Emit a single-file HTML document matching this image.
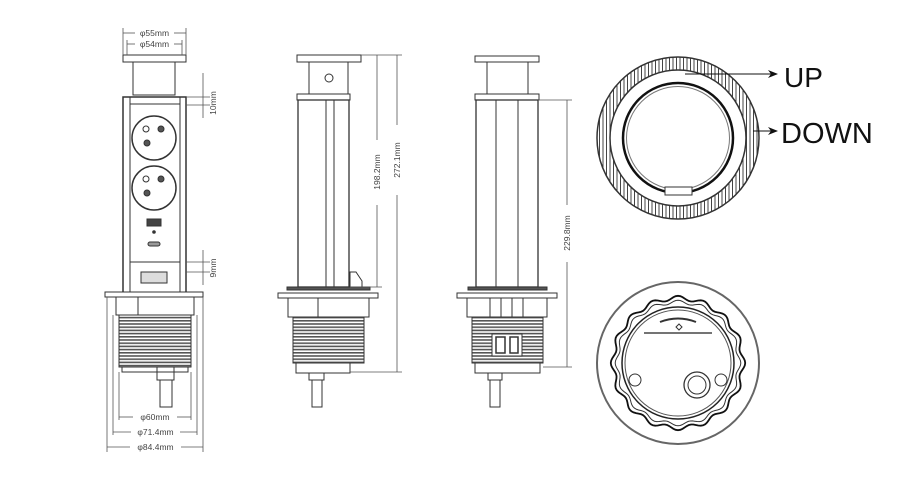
<!DOCTYPE html>
<html><head><meta charset="utf-8"><style>
html,body{margin:0;padding:0;background:#fff;}
svg{display:block;font-family:"Liberation Sans",sans-serif;}
</style></head><body>
<svg id="s" width="900" height="482" viewBox="0 0 900 482" xmlns="http://www.w3.org/2000/svg">
<defs>
<pattern id="vh" width="3.5" height="10" patternUnits="userSpaceOnUse"><rect width="3.5" height="10" fill="#fff"/><line x1="1" y1="0" x2="1" y2="10" stroke="#444" stroke-width="1"/></pattern>
<pattern id="th" width="10" height="3.2" patternUnits="userSpaceOnUse"><rect width="10" height="3.2" fill="#fff"/><rect y="0" width="10" height="1.6" fill="#555"/></pattern>
<marker id="ar" markerWidth="10" markerHeight="10" refX="9" refY="5" orient="auto" markerUnits="userSpaceOnUse"><path d="M0,1 L10,5 L0,9 L3,5z" fill="#111"/></marker>
</defs>
<g fill="none" stroke="#333" stroke-width="1">
<!-- VIEW 1 -->
<rect x="123" y="55" width="63" height="7" fill="#fff"/>
<rect x="133" y="62" width="42" height="33"/>
<rect x="123" y="97" width="63" height="196" stroke-width="1.5"/>
<line x1="130" y1="97" x2="130" y2="293"/><line x1="180" y1="97" x2="180" y2="293"/>
<line x1="130" y1="104" x2="180" y2="104"/>
<line x1="130" y1="262" x2="180" y2="262"/>
<circle cx="154" cy="138" r="22" stroke-width="1.5"/>
<circle cx="154" cy="188" r="22" stroke-width="1.5"/>
<circle cx="146" cy="129" r="3"/><circle cx="161" cy="129" r="3" fill="#555"/><circle cx="147" cy="143" r="3" fill="#555"/>
<circle cx="146" cy="179" r="3"/><circle cx="161" cy="179" r="3" fill="#555"/><circle cx="147" cy="193" r="3" fill="#555"/>
<rect x="147" y="219" width="14" height="7" fill="#444"/>
<circle cx="154" cy="232" r="1.3" fill="#333"/>
<rect x="148" y="242" width="12" height="4" rx="2" fill="#999"/>
<rect x="141" y="272" width="26" height="11" fill="#ddd"/>
<rect x="105" y="292" width="98" height="5" fill="#fff"/>
<rect x="116" y="297" width="78" height="18"/>
<line x1="138" y1="297" x2="138" y2="315"/>
<rect x="119" y="315" width="72" height="52" fill="url(#th)"/>
<rect x="122" y="367" width="66" height="5"/>
<rect x="157" y="367" width="17" height="13"/>
<rect x="160" y="380" width="12" height="27"/>
<g stroke="#555" stroke-width="0.8">
<line x1="123" y1="28" x2="123" y2="55"/><line x1="186" y1="28" x2="186" y2="55"/>
<line x1="127" y1="40" x2="127" y2="55"/><line x1="182" y1="40" x2="182" y2="55"/>
<line x1="123" y1="33" x2="135" y2="33"/><line x1="174" y1="33" x2="186" y2="33"/>
<line x1="127" y1="44" x2="135" y2="44"/><line x1="174" y1="44" x2="182" y2="44"/>
<line x1="203" y1="73" x2="203" y2="118"/><line x1="186" y1="97" x2="210" y2="97"/><line x1="186" y1="105" x2="210" y2="105"/>
<line x1="203" y1="250" x2="203" y2="285"/><line x1="186" y1="262" x2="210" y2="262"/><line x1="186" y1="272" x2="210" y2="272"/>
<line x1="119" y1="372" x2="119" y2="420"/><line x1="191" y1="372" x2="191" y2="420"/>
<line x1="113" y1="315" x2="113" y2="435"/><line x1="197" y1="315" x2="197" y2="435"/>
<line x1="107" y1="297" x2="107" y2="452"/><line x1="203" y1="297" x2="203" y2="452"/>
<line x1="119" y1="417" x2="133" y2="417"/><line x1="177" y1="417" x2="191" y2="417"/>
<line x1="113" y1="432" x2="131" y2="432"/><line x1="180" y1="432" x2="197" y2="432"/>
<line x1="107" y1="447" x2="130" y2="447"/><line x1="181" y1="447" x2="203" y2="447"/>
</g>
<!-- VIEW 2 -->
<rect x="297" y="55" width="64" height="7" fill="#fff"/>
<rect x="309" y="62" width="39" height="32"/>
<circle cx="329" cy="78" r="4"/>
<rect x="297" y="94" width="53" height="6"/>
<rect x="298" y="100" width="51" height="187" stroke-width="1.3"/>
<line x1="326" y1="100" x2="326" y2="287"/><line x1="334" y1="100" x2="334" y2="287"/>
<path d="M350,272 h6 l6,9 v6 h-12z" fill="#fff"/>
<rect x="287" y="287" width="83" height="3" fill="#555"/>
<rect x="278" y="293" width="100" height="5" fill="#fff"/>
<rect x="288" y="298" width="81" height="19"/>
<line x1="318" y1="298" x2="318" y2="317"/>
<rect x="293" y="317" width="71" height="46" fill="url(#th)"/>
<rect x="296" y="363" width="54" height="10"/>
<rect x="309" y="373" width="15" height="7"/>
<rect x="312" y="380" width="10" height="27"/>
<g stroke="#555" stroke-width="0.8">
<line x1="361" y1="55" x2="402" y2="55"/><line x1="350" y1="287" x2="382" y2="287"/><line x1="350" y1="372" x2="402" y2="372"/>
<line x1="377" y1="55" x2="377" y2="140"/><line x1="377" y1="205" x2="377" y2="287"/>
<line x1="397" y1="55" x2="397" y2="125"/><line x1="397" y1="195" x2="397" y2="372"/>
</g>
<!-- VIEW 3 -->
<rect x="475" y="56" width="64" height="6" fill="#fff"/>
<rect x="487" y="62" width="41" height="32"/>
<rect x="475" y="94" width="64" height="6"/>
<rect x="476" y="100" width="62" height="187" stroke-width="1.3"/>
<line x1="496" y1="100" x2="496" y2="287"/><line x1="518" y1="100" x2="518" y2="287"/>
<rect x="468" y="287" width="79" height="3" fill="#555"/>
<rect x="457" y="293" width="100" height="5" fill="#fff"/>
<rect x="467" y="298" width="80" height="19"/>
<line x1="490" y1="298" x2="490" y2="317"/><line x1="501" y1="298" x2="501" y2="317"/><line x1="512" y1="298" x2="512" y2="317"/><line x1="523" y1="298" x2="523" y2="317"/>
<rect x="472" y="317" width="71" height="46" fill="url(#th)"/>
<rect x="492" y="334" width="30" height="22" fill="#fff"/>
<rect x="496" y="337" width="9" height="16" fill="#fff" stroke-width="1.5"/>
<rect x="510" y="337" width="8" height="16" fill="#fff" stroke-width="1.5"/>
<rect x="475" y="363" width="65" height="10"/>
<rect x="488" y="373" width="14" height="7"/>
<rect x="490" y="380" width="10" height="27"/>
<g stroke="#555" stroke-width="0.8">
<line x1="538" y1="100" x2="572" y2="100"/><line x1="543" y1="367" x2="572" y2="367"/>
<line x1="567" y1="100" x2="567" y2="205"/><line x1="567" y1="262" x2="567" y2="367"/>
</g>
<!-- TOP CIRCLE -->
<path d="M597,138 a81,81 0 1,0 162,0 a81,81 0 1,0 -162,0z M610,138 a68,68 0 1,0 136,0 a68,68 0 1,0 -136,0z" fill="url(#vh)" fill-rule="evenodd" stroke-width="1.5"/>
<circle cx="678" cy="138" r="55" stroke="#111" stroke-width="2.5"/>
<circle cx="678" cy="138" r="51.5" stroke="#777"/>
<rect x="665" y="187" width="27" height="8" fill="#fff"/>
<!-- BOTTOM CIRCLE -->
<circle cx="678" cy="363" r="81" stroke="#666" stroke-width="2"/>
<path id="sc" stroke="#111" stroke-width="1.8"/>
<circle cx="678" cy="363" r="56" stroke="#222" stroke-width="1.5"/>
<circle cx="678" cy="363" r="53" stroke="#555"/>
<line x1="644" y1="333" x2="712" y2="333" stroke="#222" stroke-width="1.2"/>
<path d="M660,322 Q678,315 696,322" stroke="#333" stroke-width="2"/>
<path d="M679,324 l3,3 -3,3 -3,-3z"/>
<circle cx="635" cy="380" r="6"/><circle cx="721" cy="380" r="6"/>
<circle cx="697" cy="385" r="13" stroke-width="1.3"/><circle cx="697" cy="385" r="9"/>
<line x1="685" y1="74" x2="777" y2="74" stroke="#111" marker-end="url(#ar)"/>
<line x1="753" y1="131" x2="777" y2="131" stroke="#111" marker-end="url(#ar)"/>
</g>
<g fill="#444" font-size="8.5">
<text x="154.5" y="36" text-anchor="middle">φ55mm</text>
<text x="154.5" y="47" text-anchor="middle">φ54mm</text>
<text transform="translate(216,103) rotate(-90)" text-anchor="middle">10mm</text>
<text transform="translate(216,268) rotate(-90)" text-anchor="middle">9mm</text>
<text x="155" y="420" text-anchor="middle">φ60mm</text>
<text x="155.5" y="435" text-anchor="middle">φ71.4mm</text>
<text x="155.5" y="450" text-anchor="middle">φ84.4mm</text>
<text transform="translate(380,172) rotate(-90)" text-anchor="middle">198.2mm</text>
<text transform="translate(400,160) rotate(-90)" text-anchor="middle">272.1mm</text>
<text transform="translate(570,233) rotate(-90)" text-anchor="middle">229.8mm</text>
</g>
<text x="784" y="87" font-size="28" fill="#111">UP</text>
<text x="781" y="143" font-size="29" fill="#111">DOWN</text>
</svg>
<script>
(function(){var cx=678,cy=363,n=16,d="";for(var i=0;i<=360;i+=2){var a=i*Math.PI/180;var r=65+2.2*Math.cos(n*a);d+=(i?"L":"M")+(cx+r*Math.cos(a)).toFixed(2)+","+(cy+r*Math.sin(a)).toFixed(2);}
var sc=document.getElementById("sc");sc.setAttribute("d",d+"Z");
var p="";for(var j=0;j<=360;j+=2){var b=j*Math.PI/180;var r2=61+1.8*Math.cos(n*b);p+=(j?"L":"M")+(cx+r2*Math.cos(b)).toFixed(2)+","+(cy+r2*Math.sin(b)).toFixed(2);}
var e=document.createElementNS("http://www.w3.org/2000/svg","path");e.setAttribute("d",p+"Z");e.setAttribute("fill","none");e.setAttribute("stroke","#333");e.setAttribute("stroke-width","1");sc.parentNode.insertBefore(e,sc.nextSibling);})();
</script>
</body></html>
